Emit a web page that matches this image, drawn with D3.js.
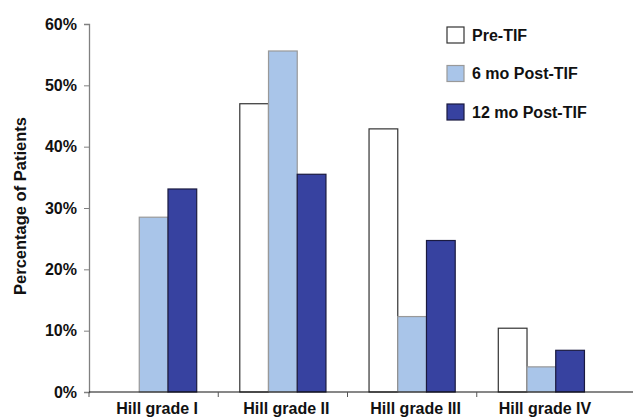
<!DOCTYPE html>
<html><head><meta charset="utf-8">
<script src="https://cdn.jsdelivr.net/npm/d3@7"></script>
<style>body{margin:0;background:#fff}text{font-family:"Liberation Sans",Arial,sans-serif;font-weight:bold}</style>
</head><body><svg id="c" width="633" height="419"></svg>
<script>
const categories = ["Hill grade I","Hill grade II","Hill grade III","Hill grade IV"];
const seriesNames = ["Pre-TIF","6 mo Post-TIF","12 mo Post-TIF"];
const preTIF = [0, 47.0, 42.9, 10.4];
const post6 = [28.5, 55.6, 12.3, 4.1];
const post12 = [33.1, 35.5, 24.7, 6.8];
const yTicks = [0,10,20,30,40,50,60];
const fills = ["#ffffff","#a9c5e9","#3742a0"];
const strokes = ["#333333","#999999","#1a1a40"];

(function(){
const series = [preTIF, post6, post12];
const svg = d3.select("#c");
const mLeft = 89, mRight = 606, mTop = 24, mBottom = 392;
const x = d3.scaleBand().domain(categories).range([mLeft, mRight]).paddingInner(0).paddingOuter(0);
const xi = d3.scaleBand().domain(seriesNames).range([0, x.bandwidth()]).paddingInner(0).paddingOuter(0.75);
const y = d3.scaleLinear().domain([0,60]).range([mBottom, mTop]);

categories.forEach((c,ci)=>{
  seriesNames.forEach((s,si)=>{
    const v = series[si][ci];
    if (v <= 0) return;
    svg.append("rect")
      .attr("x", x(c)+xi(s)).attr("y", y(v))
      .attr("width", xi.bandwidth()).attr("height", y(0)-y(v))
      .attr("fill", fills[si]).attr("stroke", strokes[si]).attr("stroke-width", 1.2);
  });
});

const ya = svg.append("g").attr("transform",`translate(${mLeft},0)`)
  .call(d3.axisLeft(y).tickValues(yTicks).tickFormat(d=>d+"%").tickSize(5));
ya.select(".domain").attr("stroke","#808080").attr("stroke-width",1.3);
ya.selectAll(".tick line").attr("stroke","#808080");
ya.selectAll(".tick text").attr("font-size",16).attr("fill","#111").attr("x",-12).attr("font-family","Liberation Sans, Arial, sans-serif");

svg.append("line").attr("x1",mLeft).attr("x2",633).attr("y1",mBottom).attr("y2",mBottom).attr("stroke","#111").attr("stroke-width",1.2);
const bounds = categories.map(c=>x(c));
svg.selectAll(".xt").data(bounds).enter().append("line")
  .attr("x1",d=>d).attr("x2",d=>d).attr("y1",mBottom).attr("y2",mBottom+5).attr("stroke","#555");
svg.selectAll(".xl").data(categories).enter().append("text")
  .attr("x",d=>x(d)+x.bandwidth()/2+3.5).attr("y",414).attr("text-anchor","middle")
  .attr("font-size",16).attr("fill","#111").text(d=>d);

svg.append("text").attr("transform",`translate(26,206) rotate(-90)`)
  .attr("text-anchor","middle").attr("font-size",16.5).attr("fill","#111").text("Percentage of Patients");

const lg = svg.append("g");
seriesNames.forEach((s,i)=>{
  const yy = 27 + i*38.5;
  lg.append("rect").attr("x",447).attr("y",yy).attr("width",17).attr("height",16)
    .attr("fill",fills[i]).attr("stroke",strokes[i]).attr("stroke-width",1.2);
  lg.append("text").attr("x",472).attr("y",yy+13.5).attr("font-size",16).attr("fill","#111").text(s);
});
})();
</script></body></html>
